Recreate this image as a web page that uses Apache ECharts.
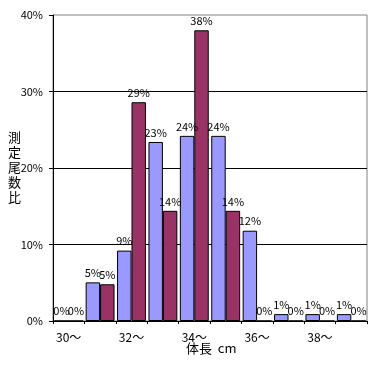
<!DOCTYPE html>
<html><head><meta charset="utf-8">
<script src="https://cdn.jsdelivr.net/npm/echarts@6/dist/echarts.min.js"></script>
<style>html,body{margin:0;padding:0;background:#fff}#c{width:372px;height:365px}</style>
</head><body><div id="c"></div>
<script>
var categories = ['30〜','31〜','32〜','33〜','34〜','35〜','36〜','37〜','38〜','39〜'];
var seriesA = [0, 5.05, 9.2, 23.4, 24.2, 24.2, 11.8, 0.9, 0.9, 0.9];
var seriesB = [0, 4.8, 28.6, 14.4, 38.0, 14.4, 0, 0, 0, 0];
var yTicks = [0, 10, 20, 30, 40];
var yName = '測定尾数比';
var xName = '体長  cm';

var FONT = '"Noto Sans CJK JP", "Liberation Sans", sans-serif';
var chart = echarts.init(document.getElementById('c'), null, {renderer: 'canvas'});
function lbl() {
  return {show: true, position: 'top', distance: 4, color: '#000', fontSize: 11, fontFamily: FONT,
    formatter: function (p) { return Math.round(p.value) + '%'; }};
}
chart.setOption({
  animation: false,
  backgroundColor: '#fff',
  grid: {left: 53, right: 5, top: 15, bottom: 44, show: true, borderColor: '#808080', borderWidth: 1, backgroundColor: 'transparent'},
  xAxis: {
    type: 'category', data: categories,
    axisLine: {lineStyle: {color: '#000', width: 1}},
    axisTick: {show: true, interval: 0, length: 3, lineStyle: {color: '#000'}},
    axisLabel: {interval: 1, margin: 10, color: '#000', fontSize: 12, fontFamily: FONT}
  },
  yAxis: {
    type: 'value', min: yTicks[0], max: yTicks[yTicks.length - 1], interval: 10,
    axisLine: {show: true, lineStyle: {color: '#000', width: 1}},
    axisTick: {show: true, length: 4, lineStyle: {color: '#000'}},
    axisLabel: {margin: 10, color: '#000', fontSize: 11, fontFamily: FONT, formatter: '{value}%'},
    splitLine: {show: true, showMaxLine: false, lineStyle: {color: '#000', width: 1}}
  },
  graphic: [
    {type: 'text', left: 8, top: 130, style: {text: yName.split('').join('\n'), font: '13px ' + FONT, lineHeight: 15, fill: '#000', align: 'center'}},
    {type: 'text', left: 186, top: 342, style: {text: xName, font: '13px ' + FONT, fill: '#000'}}
  ],
  series: [
    {type: 'bar', data: seriesA, barGap: '0%', barCategoryGap: '8%',
     itemStyle: {color: '#9999FF', borderColor: '#000', borderWidth: 1}, label: lbl()},
    {type: 'bar', data: seriesB, barGap: '0%', barCategoryGap: '8%',
     itemStyle: {color: '#993366', borderColor: '#000', borderWidth: 1}, label: lbl()}
  ]
});
</script></body></html>
